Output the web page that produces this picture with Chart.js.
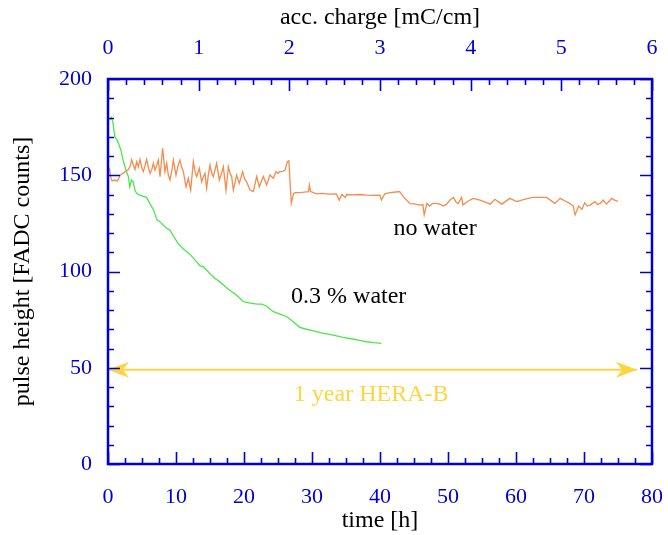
<!DOCTYPE html>
<html>
<head>
<meta charset="utf-8">
<script src="https://cdn.jsdelivr.net/npm/chart.js@4"></script>
<style>
  html, body { margin: 0; padding: 0; background: #fff; }
  #chart { display: block; }
</style>
</head>
<body>
<canvas id="chart" width="668" height="535"></canvas>
<script>
// run without water (orange)
const dryTime = [0.2, 0.4, 0.6, 1.0, 1.4, 1.8, 2.2, 2.6, 3.0, 3.3, 3.48, 3.73, 3.97, 4.22, 4.46, 4.71, 4.95, 5.2, 5.45, 5.69,
  5.94, 6.18, 6.43, 6.67, 6.91, 7.15, 7.4, 7.65, 8.04, 8.38, 8.63, 8.88, 9.12, 9.37, 9.61, 10.0, 10.3, 10.59, 10.84, 11.08,
  11.47, 11.81, 12.16, 12.55, 12.8, 13.04, 13.43, 13.77, 14.0, 14.26, 14.51, 14.75, 15.0, 15.25, 15.49, 15.98, 16.37, 16.7, 16.96, 17.35,
  17.7, 17.95, 18.19, 18.43, 18.92, 19.31, 19.8, 20.1, 20.39, 20.88, 21.37, 21.86, 22.25, 22.84, 23.33, 23.82, 24.31, 24.71, 25.0, 25.29,
  25.7, 26.03, 26.37, 26.6, 26.8, 26.95, 27.3, 27.6, 28.2, 28.8, 29.5, 29.6, 29.8, 30.7, 31.5, 32.5, 33.6, 34.0, 34.4, 34.9,
  35.1, 36, 37, 38, 39, 40, 40.2, 40.7, 41.5, 42.3, 42.9, 43.4, 43.9, 44.4, 45.2, 45.9, 46.3, 46.5, 46.9, 47.3,
  47.8, 48.3, 48.8, 49.3, 49.8, 50.3, 50.8, 51.2, 51.5, 52.0, 52.2, 52.9, 53.7, 54.7, 55.5, 56.2, 56.9, 57.9, 59.1, 60.1,
  61.2, 62.5, 64.5, 65.7, 66.5, 67.3, 67.9, 68.4, 68.7, 69.2, 69.7, 70.1, 70.5, 70.9, 71.6, 72.0, 72.4, 72.8, 73.3, 73.7,
  74.1, 74.6, 75.0];
const dryPulse = [154, 149, 147, 147.5, 147, 150, 151, 152, 153, 155, 158, 155.3, 153, 157, 154.4, 158.3, 154, 151.9, 155, 158.3,
  154, 151, 153, 156.2, 152.7, 155, 157.9, 149.3, 164, 151.9, 156.2, 150, 147.5, 152, 157.9, 150.1, 155, 157.9, 154, 151.9,
  144, 148.4, 142.3, 157, 152, 149.3, 153.6, 146.6, 149, 151, 143.2, 150, 155.3, 151, 149.3, 156.2, 147.5, 151, 154.4, 142.3,
  154.4, 151, 149.3, 142.3, 150.1, 145.8, 151.9, 148, 146.6, 142.3, 141.5, 149.3, 144, 149.3, 145, 150.1, 148.4, 151.9, 151, 151.9,
  152, 152.7, 157, 157.5, 145, 135.4, 140.6, 141, 141, 141.2, 141.5, 145, 141.5, 140.3, 140.6, 140.2, 140.3, 137.1, 140, 138.5,
  140, 139.8, 140, 139.7, 139.5, 139.7, 137.1, 140.3, 141, 141.3, 141.5, 139, 137.1, 135.4, 135, 134.5, 134.8, 129.4, 135.4, 134,
  135.4, 135.4, 135, 134, 135, 137.1, 138.5, 136, 135.4, 138.5, 134.5, 136.5, 138, 137.1, 136, 135, 137.5, 135, 138, 136.3,
  137.5, 138.5, 138.5, 135.4, 138, 136.5, 135.4, 134, 129.4, 134, 132.3, 135.7, 134, 134.5, 136.3, 134.8, 135.4, 137.1, 135, 136.5,
  138, 136.8, 136.5];

// run with 0.3 % water (green)
const wetTime = [0.3, 0.5, 0.7, 1.0, 1.3, 1.6, 1.9, 2.2, 2.5, 2.8, 3.0, 3.2, 3.45, 3.7, 3.95, 4.2, 4.7, 5.2, 5.7, 6.2,
  6.7, 7.2, 7.6, 8.1, 8.6, 9.1, 9.7, 10.3, 11.0, 11.6, 12.3, 13.0, 13.5, 14.0, 14.5, 15.1, 15.7, 16.3, 17.0, 17.6,
  18.2, 18.8, 19.4, 19.9, 20.9, 21.9, 22.6, 23.3, 23.8, 24.3, 25.3, 26.3, 27.2, 28.2, 29.2, 30.2, 31.6, 33.1, 34.6, 36.1,
  37.0, 38.0, 39.1, 40.2];
const wetPulse = [178.7, 180, 178, 170, 168.5, 166, 163, 158, 154.4, 151, 149.3, 144, 147.5, 146.7, 142.5, 140.6, 139.7, 139, 138.5, 135,
  132, 126.8, 126, 124.2, 122.5, 121.6, 118, 114.6, 112, 110.3, 108, 105.1, 103, 102.5, 100.8, 98.5, 96.5, 95, 93, 91,
  89.5, 88, 86.1, 84.3, 83.6, 83.1, 83, 82.1, 80.5, 79.1, 77.8, 76.5, 74, 71, 70, 69.2, 68, 67, 65.8, 64.8,
  64.2, 63.5, 63, 62.7];

// one year of HERA-B running
const heraTime = [0, 77.8];
const heraPulse = [49, 49];

const timeTicks = [0, 10, 20, 30, 40, 50, 60, 70, 80];
const chargeTicks = [0, 1, 2, 3, 4, 5, 6];
const pulseTicks = [0, 50, 100, 150, 200];

const blue = '#0000d2';
const serif = 'Liberation Serif';

function pts(xs, ys) {
  return xs.map((x, i) => ({ x: x, y: ys[i] }));
}

function setTicks(list) {
  return scale => { scale.ticks = list.map(v => ({ value: v })); };
}

// keep the plot box fixed, labels may overhang
function fitBox(size) {
  return s => {
    if (s.isHorizontal()) s.height = size; else s.width = size;
    s.paddingLeft = 0; s.paddingRight = 0; s.paddingTop = 0; s.paddingBottom = 0;
  };
}

// inward tick marks on all four sides plus the frame
const frame = {
  id: 'frame',
  afterDraw(chart) {
    const { ctx, chartArea: a, scales } = chart;
    ctx.save();
    ctx.strokeStyle = blue;
    ctx.lineWidth = 1.6;
    ctx.beginPath();
    for (let v = 0; v <= 80; v += 2.5) {
      const px = Math.round(scales.x.getPixelForValue(v)) + 0.5;
      const len = v % 10 === 0 ? 12 : 6;
      ctx.moveTo(px, a.bottom); ctx.lineTo(px, a.bottom - len);
    }
    for (let i = 0; i <= 30; i++) {
      const px = Math.round(scales.x2.getPixelForValue(i * 0.2)) + 0.5;
      const len = i % 5 === 0 ? 12 : 6;
      ctx.moveTo(px, a.top); ctx.lineTo(px, a.top + len);
    }
    for (let v = 0; v <= 200; v += 10) {
      const py = Math.round(scales.y.getPixelForValue(v)) + 0.5;
      const len = v % 50 === 0 ? 12 : 6;
      ctx.moveTo(a.left, py); ctx.lineTo(a.left + len, py);
      ctx.moveTo(a.right, py); ctx.lineTo(a.right - len, py);
    }
    ctx.stroke();
    ctx.lineWidth = 2.5;
    ctx.strokeRect(a.left, a.top, a.right - a.left, a.bottom - a.top);
    ctx.restore();
  }
};

// arrow heads on the HERA-B line and the curve labels
const notes = {
  id: 'notes',
  afterDatasetsDraw(chart) {
    const { ctx, scales } = chart;
    const meta = chart.getDatasetMeta(2);
    const p0 = meta.data[0], p1 = meta.data[1];
    ctx.save();
    ctx.fillStyle = '#ffd53f';
    [[p0, 1], [p1, -1]].forEach(([p, d]) => {
      ctx.beginPath();
      ctx.moveTo(p.x, p.y);
      ctx.lineTo(p.x + d * 21, p.y - 8);
      ctx.lineTo(p.x + d * 15, p.y);
      ctx.lineTo(p.x + d * 21, p.y + 8);
      ctx.closePath();
      ctx.fill();
    });
    ctx.font = '24px ' + serif;
    ctx.textAlign = 'center';
    ctx.textBaseline = 'middle';
    ctx.fillText('1 year HERA-B', scales.x.getPixelForValue(38.7), scales.y.getPixelForValue(36));
    ctx.fillStyle = '#000';
    ctx.fillText('no water', scales.x.getPixelForValue(48.1), scales.y.getPixelForValue(122));
    ctx.fillText('0.3 % water', scales.x.getPixelForValue(35.4), scales.y.getPixelForValue(87));
    ctx.restore();
  }
};

new Chart(document.getElementById('chart'), {
  type: 'line',
  data: {
    datasets: [
      { data: pts(dryTime, dryPulse), borderColor: '#f58b4c', borderWidth: 1.3 },
      { data: pts(wetTime, wetPulse), borderColor: '#4be84b', borderWidth: 1.3 },
      { data: pts(heraTime, heraPulse), borderColor: '#ffd53f', borderWidth: 2 }
    ]
  },
  options: {
    responsive: false,
    animation: false,
    events: [],
    layout: { padding: { right: 16 } },
    elements: { point: { radius: 0 }, line: { tension: 0 } },
    plugins: { legend: { display: false }, tooltip: { enabled: false } },
    scales: {
      x: {
        type: 'linear', position: 'bottom', min: 0, max: 80,
        afterBuildTicks: setTicks(timeTicks),
        afterFit: fitBox(71),
        grid: { display: false, drawTicks: false },
        border: { display: false },
        ticks: { color: blue, padding: 20, maxRotation: 0, font: { family: serif, size: 22 } },
        title: { display: true, text: 'time [h]', color: '#000', padding: { top: 0, bottom: 0 }, font: { family: serif, size: 24 } }
      },
      x2: {
        type: 'linear', position: 'top', min: 0, max: 6,
        afterBuildTicks: setTicks(chargeTicks),
        afterFit: fitBox(79),
        grid: { display: false, drawTicks: false },
        border: { display: false },
        ticks: { color: blue, padding: 18, maxRotation: 0, font: { family: serif, size: 22 } },
        title: { display: true, text: 'acc. charge [mC/cm]', color: '#000', padding: { top: 3, bottom: 0 }, font: { family: serif, size: 24 } }
      },
      y: {
        type: 'linear', position: 'left', min: 0, max: 200,
        afterBuildTicks: setTicks(pulseTicks),
        afterFit: fitBox(108),
        grid: { display: false, drawTicks: false },
        border: { display: false },
        ticks: { color: blue, padding: 16, font: { family: serif, size: 22 } },
        title: { display: true, text: 'pulse height [FADC counts]', color: '#000', padding: { top: 8, bottom: 0 }, font: { family: serif, size: 24 } }
      }
    }
  },
  plugins: [frame, notes]
});
</script>
</body>
</html>
